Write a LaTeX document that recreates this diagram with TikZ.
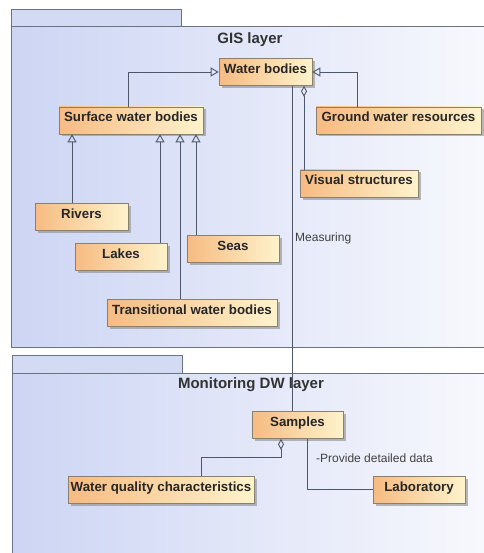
\documentclass[tikz,border=0pt]{standalone}
\usepackage{fontspec}
\setmainfont{Liberation Sans}
\usetikzlibrary{arrows.meta,shadows}
\definecolor{pkgleft}{HTML}{CDD5F4}
\definecolor{pkgright}{HTML}{F8F9FD}
\definecolor{pkgtab}{HTML}{D3DAF4}
\definecolor{pkgline}{HTML}{6C7380}
\definecolor{boxleft}{HTML}{F6BB82}
\definecolor{boxright}{HTML}{FEF3CC}
\definecolor{boxline}{HTML}{8A8070}
\definecolor{conn}{HTML}{4E576A}
\tikzset{
  cls/.style={draw=boxline, line width=0.6pt, left color=boxleft, right color=boxright,
    font=\fontsize{13.3}{15}\selectfont\bfseries, text=black!85,
    inner xsep=0pt, inner ysep=0pt, text height=15pt, text depth=12pt,
    drop shadow={shadow xshift=2.5pt, shadow yshift=-2.5pt, fill=black!45, opacity=0.6}},
  pkg/.style={draw=pkgline, line width=1pt, left color=pkgleft, right color=pkgright},
  pkgtabst/.style={draw=pkgline, line width=1pt, fill=pkgtab},
  ttl/.style={font=\fontsize{15}{17}\selectfont\bfseries, text=black!80, inner sep=0pt},
  lbl/.style={font=\fontsize{12}{14}\selectfont, text=black!75, inner sep=0pt, anchor=west},
  conline/.style={draw=conn, line width=0.9pt},
  gen/.style={conline, -{Triangle[open, length=8pt, width=9pt]}},
  agg/.style={conline, -{Diamond[open, length=11pt, width=6pt]}}
}
\begin{document}
\begin{tikzpicture}[x=1pt, y=-1pt]
\useasboundingbox (0,0) rectangle (483,553);
% packages
\path[pkgtabst] (11,10) rectangle (181,27);
\path[pkg] (11,27) rectangle (492,347);
\node[ttl] (gisttl) at (250,39.5) {GIS layer};
\path[pkgtabst] (12,355) rectangle (182,373);
\path[pkg] (12,373) rectangle (492,560);
\node[ttl] (monttl) at (251,385) {Monitoring DW layer};
% classes
\node[cls, minimum width=93pt] (wb) at (265.5,72) {Water bodies};
\node[cls, minimum width=144pt] (swb) at (131,120.5) {Surface water bodies};
\node[cls, minimum width=165pt] (gwr) at (398.5,120.5) {Ground water resources};
\node[cls, minimum width=118pt] (vs) at (359,183.5) {Visual structures};
\node[cls, minimum width=93pt] (rivers) at (81.5,216.5) {Rivers};
\node[cls, minimum width=92pt] (lakes) at (121,256.5) {Lakes};
\node[cls, minimum width=92pt] (seas) at (233,248.5) {Seas};
\node[cls, minimum width=170pt] (twb) at (192,313) {Transitional water bodies};
\node[cls, minimum width=91pt] (samples) at (297.5,425) {Samples};
\node[cls, minimum width=186pt] (wqc) at (161,489.5) {Water quality characteristics};
\node[cls, minimum width=92pt] (lab) at (419,489.5) {Laboratory};
% generalizations
\draw[gen] ([xshift=-3pt]swb.north) |- (wb.west);
\draw[gen] ([xshift=-41.5pt]gwr.north) |- (wb.east);
\draw[gen] ([xshift=-9.5pt]rivers.north) -- ([xshift=-9.5pt]rivers.north |- swb.south);
\draw[gen] ([xshift=39pt]lakes.north) -- ([xshift=39pt]lakes.north |- swb.south);
\draw[gen] ([xshift=-12pt]twb.north) -- ([xshift=-12pt]twb.north |- swb.south);
\draw[gen] ([xshift=-37pt]seas.north) -- ([xshift=-37pt]seas.north |- swb.south);
% aggregations
\draw[agg] ([xshift=-55pt]vs.north) -- ([xshift=-55pt]vs.north |- wb.south);
\draw[agg] ([xshift=40pt]wqc.north) -- ++(0,-18) -| ([xshift=-16.5pt]samples.south);
% associations
\draw[conline] ([xshift=26.5pt]wb.south) -- ([xshift=26.5pt]wb.south |- samples.north);
\node[lbl] (meas) at (295,238) {Measuring};
\draw[conline] ([xshift=9.5pt]samples.south) |- (lab.west);
\node[lbl] (prov) at (316,458) {-Provide detailed data};
\end{tikzpicture}
\end{document}
